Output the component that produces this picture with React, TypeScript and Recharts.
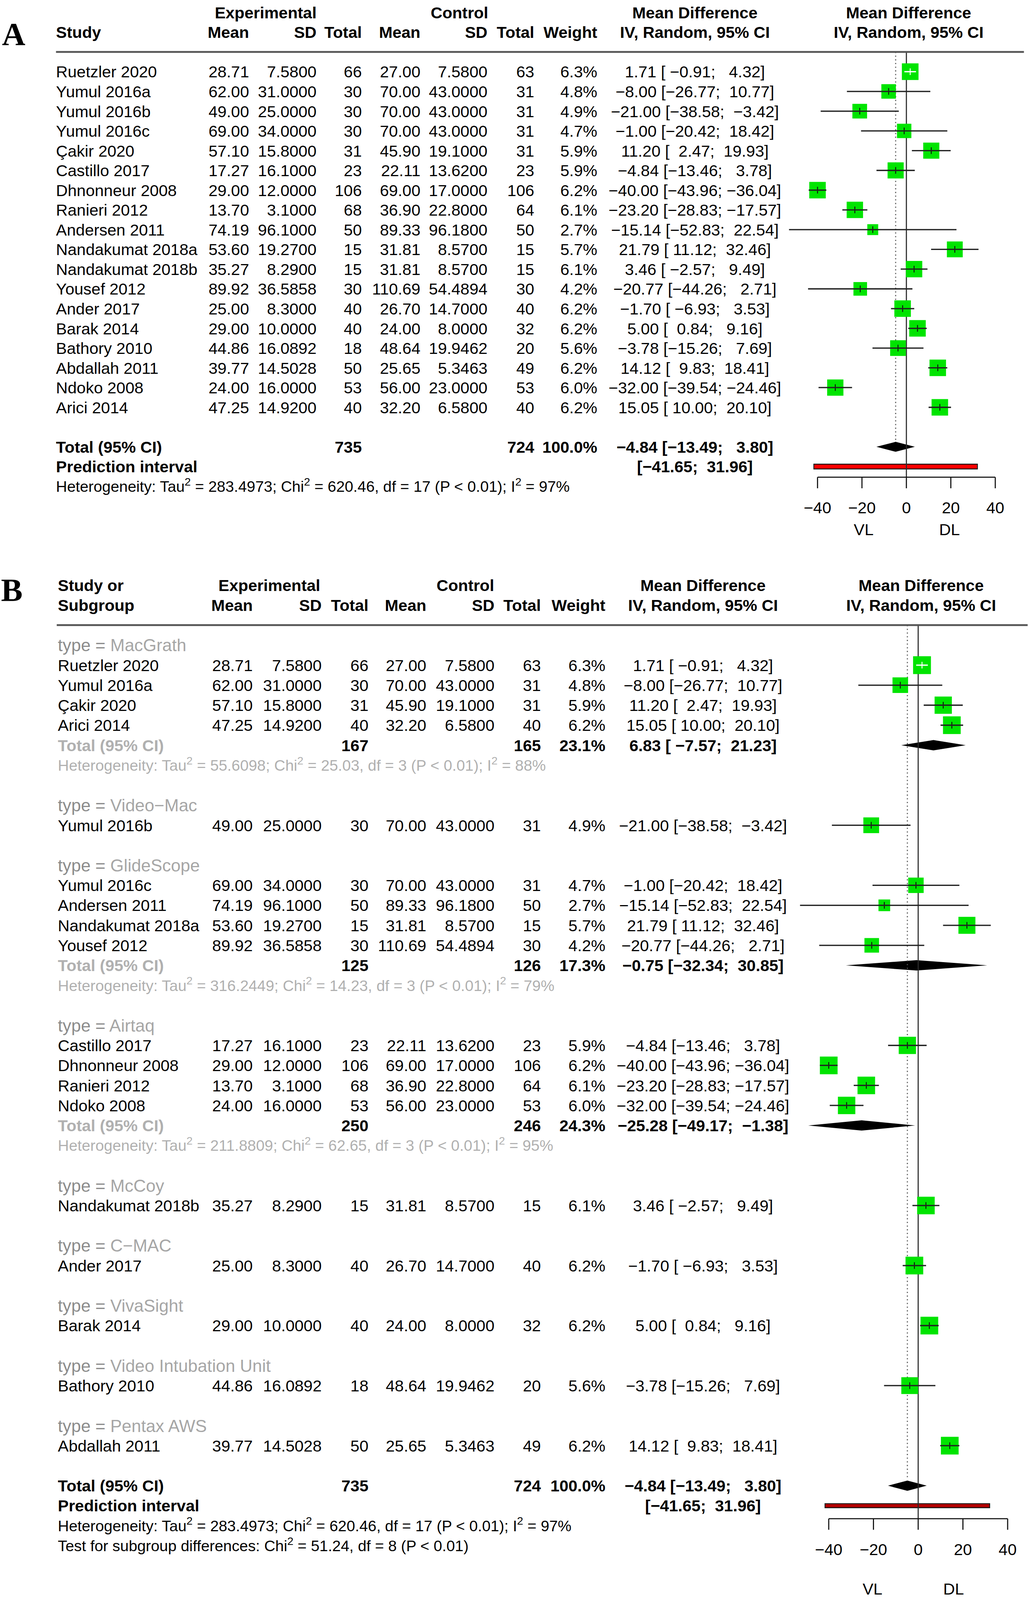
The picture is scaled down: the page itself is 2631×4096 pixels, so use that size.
import React from 'react';
import { ComposedChart, Scatter, XAxis, YAxis, ReferenceLine, ReferenceArea } from 'recharts';

// everything below is laid out in reference pixels and scaled by S
const S = 0.943;
const k = (v: number) => v * S;
const REF_W = 2789;
const FONT = '"Liberation Sans", Arial, Helvetica, sans-serif';
const SERIF = '"Liberation Serif", "Times New Roman", serif';
const GREEN = '#00e400';
const HET_SIZE = 41.7;
const LABEL_SIZE = 47;

// ---- study table (panel A order) ----
const studyNames = [
  'Ruetzler 2020', 'Yumul 2016a', 'Yumul 2016b', 'Yumul 2016c', 'Çakir 2020', 'Castillo 2017',
  'Dhnonneur 2008', 'Ranieri 2012', 'Andersen 2011', 'Nandakumat 2018a', 'Nandakumat 2018b',
  'Yousef 2012', 'Ander 2017', 'Barak 2014', 'Bathory 2010', 'Abdallah 2011', 'Ndoko 2008', 'Arici 2014',
];
const expMean = [28.71, 62.0, 49.0, 69.0, 57.1, 17.27, 29.0, 13.7, 74.19, 53.6, 35.27, 89.92, 25.0, 29.0, 44.86, 39.77, 24.0, 47.25];
const expSD = [7.58, 31.0, 25.0, 34.0, 15.8, 16.1, 12.0, 3.1, 96.1, 19.27, 8.29, 36.5858, 8.3, 10.0, 16.0892, 14.5028, 16.0, 14.92];
const expN = [66, 30, 30, 30, 31, 23, 106, 68, 50, 15, 15, 30, 40, 40, 18, 50, 53, 40];
const ctlMean = [27.0, 70.0, 70.0, 70.0, 45.9, 22.11, 69.0, 36.9, 89.33, 31.81, 31.81, 110.69, 26.7, 24.0, 48.64, 25.65, 56.0, 32.2];
const ctlSD = [7.58, 43.0, 43.0, 43.0, 19.1, 13.62, 17.0, 22.8, 96.18, 8.57, 8.57, 54.4894, 14.7, 8.0, 19.9462, 5.3463, 23.0, 6.58];
const ctlN = [63, 31, 31, 31, 31, 23, 106, 64, 50, 15, 15, 30, 40, 32, 20, 49, 53, 40];
const weight = [6.3, 4.8, 4.9, 4.7, 5.9, 5.9, 6.2, 6.1, 2.7, 5.7, 6.1, 4.2, 6.2, 6.2, 5.6, 6.2, 6.0, 6.2];
const meanDiff = [1.71, -8.0, -21.0, -1.0, 11.2, -4.84, -40.0, -23.2, -15.14, 21.79, 3.46, -20.77, -1.7, 5.0, -3.78, 14.12, -32.0, 15.05];
const ciLow = [-0.91, -26.77, -38.58, -20.42, 2.47, -13.46, -43.96, -28.83, -52.83, 11.12, -2.57, -44.26, -6.93, 0.84, -15.26, 9.83, -39.54, 10.0];
const ciHigh = [4.32, 10.77, -3.42, 18.42, 19.93, 3.78, -36.04, -17.57, 22.54, 32.46, 9.49, 2.71, 3.53, 9.16, 7.69, 18.41, -24.46, 20.1];

// ---- subgroups (panel B) ----
const groupNames = ['MacGrath', 'Video−Mac', 'GlideScope', 'Airtaq', 'McCoy', 'C−MAC', 'VivaSight', 'Video Intubation Unit', 'Pentax AWS'];
const groupMembers = [[0, 1, 4, 17], [2], [3, 8, 9, 11], [5, 6, 7, 16], [10], [12], [13], [14], [15]];
const subExpN = [167, null, 125, 250, null, null, null, null, null];
const subCtlN = [165, null, 126, 246, null, null, null, null, null];
const subWeight = [23.1, null, 17.3, 24.3, null, null, null, null, null];
const subMd = [6.83, null, -0.75, -25.28, null, null, null, null, null];
const subLow = [-7.57, null, -32.34, -49.17, null, null, null, null, null];
const subHigh = [21.23, null, 30.85, -1.38, null, null, null, null, null];
const subTau2 = ['55.6098', null, '316.2449', '211.8809', null, null, null, null, null];
const subChi2 = ['25.03', null, '14.23', '62.65', null, null, null, null, null];
const subDf = [3, null, 3, 3, null, null, null, null, null];
const subI2 = [88, null, 79, 95, null, null, null, null, null];

// ---- overall ----
const totalExpN = 735;
const totalCtlN = 724;
const overallMd = -4.84;
const overallLow = -13.49;
const overallHigh = 3.8;
const predLow = -41.65;
const predHigh = 31.96;
const hetTau2 = '283.4973';
const hetChi2 = '620.46';
const hetDf = 17;
const hetI2 = 97;
const testChi2 = '51.24';
const testDf = 8;
const axisTicks = [-40, -20, 0, 20, 40];

const XMIN = -58;
const XMAX = 48;
const XAXIS_H = 150;

type Panel = {
  top: number; height: number; lineY: number; lineRow: number; unit: number; axisRow: number;
  zero: number; ppu: number; sq: number; dia: number; pred: number; predFill: string;
};
const PA: Panel = { top: 0, height: 1545, lineY: 141, lineRow: -1, unit: 53.6, axisRow: 20.54, zero: 2460, ppu: 6.03, sq: 18, dia: 13.5, pred: 6.5, predFill: '#ff0000' };
const PB: Panel = { top: 1545, height: 2797, lineY: 1697, lineRow: -2, unit: 54.33, axisRow: 42.65, zero: 2492, ppu: 6.07, sq: 19.3, dia: 14, pred: 5.5, predFill: '#b40000' };

const rowY = (p: Panel, r: number) => p.lineY + (r - p.lineRow) * p.unit;

const minus = (s: string) => s.replace('-', '−');
const f2 = (v: number) => minus(v.toFixed(2));
const f4 = (v: number) => minus(v.toFixed(4));
const pad = (s: string, n: number) => s.padStart(n, ' ');
const mdText = (m: number, lo: number, hi: number) => `${f2(m)} [${pad(f2(lo), 6)}; ${pad(f2(hi), 6)}]`;

type Sq = { x: number; y: number; size: number; white: boolean };
type Seg = { lo: number; hi: number; y: number; white: boolean };
type Dia = { lo: number; hi: number; y: number };

const squareShape = (props: any) => {
  const { cx, cy, payload } = props;
  const s = k(payload.size);
  return (
    <g>
      <rect x={cx - s / 2} y={cy - s / 2} width={s} height={s} fill={GREEN} />
      <line x1={cx} x2={cx} y1={cy - k(9)} y2={cy + k(9)} stroke={payload.white ? '#fff' : '#111'} strokeWidth={k(2.5)} />
    </g>
  );
};
const emptyShape = () => <g />;
const diamondShape = (props: any) => {
  const { x, y, width, height } = props;
  return (
    <polygon
      points={`${x},${y + height / 2} ${x + width / 2},${y} ${x + width},${y + height / 2} ${x + width / 2},${y + height}`}
      fill="#000"
    />
  );
};

function ForestChart({ p, squares, segs, diamonds, predRow, totalRow }: {
  p: Panel; squares: Sq[]; segs: Seg[]; diamonds: Dia[]; predRow: number; totalRow: number;
}) {
  const axisPx = rowY(p, p.axisRow);
  const margin = {
    top: k(p.lineY - p.top),
    left: k(p.zero + XMIN * p.ppu),
    right: k(REF_W - (p.zero + XMAX * p.ppu)),
    bottom: k(p.top + p.height - axisPx - XAXIS_H),
  };
  const hDia = p.dia / p.unit;
  const hPred = p.pred / p.unit;
  return (
    <div style={{ position: 'absolute', left: 0, top: k(p.top) }}>
      <ComposedChart width={k(REF_W)} height={k(p.height)} margin={margin}>
        <XAxis
          type="number" dataKey="x" domain={[XMIN, XMAX]} ticks={axisTicks} interval={0}
          axisLine={false} tickLine={{ stroke: '#111', strokeWidth: k(3) }} tickSize={k(30)} tickMargin={k(37)}
          height={k(XAXIS_H)} tick={{ fill: '#000', fontSize: k(44), fontFamily: FONT }}
          tickFormatter={(v: number) => minus(String(v))}
        />
        <YAxis type="number" dataKey="y" domain={[p.lineRow, p.axisRow]} reversed hide />
        <ReferenceArea
          x1={predLow} x2={predHigh} y1={predRow - hPred} y2={predRow + hPred}
          fill={p.predFill} fillOpacity={1} stroke="#1a1a1a" strokeWidth={k(2.5)} ifOverflow="visible"
        />
        {diamonds.map((d, i) => (
          <ReferenceArea key={`d${i}`} x1={d.lo} x2={d.hi} y1={d.y - hDia} y2={d.y + hDia} shape={diamondShape} ifOverflow="visible" />
        ))}
        <ReferenceLine x={0} stroke="#2b2b2b" strokeWidth={k(3)} ifOverflow="visible" />
        <ReferenceLine
          segment={[{ x: overallMd, y: p.lineRow }, { x: overallMd, y: totalRow - hDia - 0.05 }]}
          stroke="#555" strokeWidth={k(3)} strokeDasharray={`${k(3)} ${k(7)}`} ifOverflow="visible"
        />
        <ReferenceLine
          segment={[{ x: axisTicks[0], y: p.axisRow }, { x: axisTicks[axisTicks.length - 1], y: p.axisRow }]}
          stroke="#111" strokeWidth={k(3)} ifOverflow="visible"
        />
        <Scatter data={squares} shape={squareShape} isAnimationActive={false} />
        {segs.map((s, i) => (
          <Scatter
            key={`s${i}`}
            data={[{ x: s.lo, y: s.y }, { x: s.hi, y: s.y }]}
            fill={s.white ? '#fff' : '#222'}
            line={{ stroke: s.white ? '#fff' : '#222', strokeWidth: k(3.5) }}
            shape={emptyShape}
            isAnimationActive={false}
          />
        ))}
      </ComposedChart>
    </div>
  );
}

// ---- text helpers ----
function T({ x, y, a = 'start', size = 44, bold = false, fill = '#000', children }: {
  x: number; y: number; a?: 'start' | 'middle' | 'end'; size?: number; bold?: boolean; fill?: string; children: React.ReactNode;
}) {
  return (
    <text x={k(x)} y={k(y + 0.36 * size)} textAnchor={a} fontSize={k(size)} fontWeight={bold ? 700 : 400}
      fill={fill} fontFamily={FONT} style={{ whiteSpace: 'pre' }}>
      {children}
    </text>
  );
}

function Sup({ x, y, parts, fill = '#000', size = HET_SIZE }: { x: number; y: number; parts: string[]; fill?: string; size?: number }) {
  const fs = k(size);
  const up = fs * 0.42;
  return (
    <text x={k(x)} y={k(y + 0.36 * size)} fontSize={fs} fill={fill} fontFamily={FONT} style={{ whiteSpace: 'pre' }}>
      {parts.map((s, i) =>
        i % 2 === 1
          ? <tspan key={i} dy={-up} fontSize={fs * 0.72}>{s}</tspan>
          : <tspan key={i} dy={i === 0 ? 0 : up}>{s}</tspan>
      )}
    </text>
  );
}

const hetParts = (tau: string, chi: string, df: number, i2: number) => [
  'Heterogeneity: Tau', '2', ` = ${tau}; Chi`, '2', ` = ${chi}, df = ${df} (P < 0.01); I`, '2', ` = ${i2}%`,
];

type Cols = { name: number; eMean: number; eSD: number; eN: number; cMean: number; cSD: number; cN: number; w: number; md: number; plot: number; exp: number; ctl: number };
const colA: Cols = { name: 152, eMean: 676, eSD: 859, eN: 982, cMean: 1141, cSD: 1323, cN: 1450, w: 1621, md: 1886, plot: 2466, exp: 721, ctl: 1247 };
const colB: Cols = { name: 157, eMean: 686, eSD: 873, eN: 1000, cMean: 1157, cSD: 1342, cN: 1468, w: 1643, md: 1908, plot: 2500, exp: 731, ctl: 1263 };

function Header({ c, y1, y2, study }: { c: Cols; y1: number; y2: number; study: string[] }) {
  return (
    <g>
      {study.length > 1 && <T x={c.name} y={y1} bold>{study[0]}</T>}
      <T x={c.exp} y={y1} a="middle" bold>Experimental</T>
      <T x={c.ctl} y={y1} a="middle" bold>Control</T>
      <T x={c.md} y={y1} a="middle" bold>Mean Difference</T>
      <T x={c.plot} y={y1} a="middle" bold>Mean Difference</T>
      <T x={c.name} y={y2} bold>{study[study.length - 1]}</T>
      <T x={c.eMean} y={y2} a="end" bold>Mean</T>
      <T x={c.eSD} y={y2} a="end" bold>SD</T>
      <T x={c.eN} y={y2} a="end" bold>Total</T>
      <T x={c.cMean} y={y2} a="end" bold>Mean</T>
      <T x={c.cSD} y={y2} a="end" bold>SD</T>
      <T x={c.cN} y={y2} a="end" bold>Total</T>
      <T x={c.w} y={y2} a="end" bold>Weight</T>
      <T x={c.md} y={y2} a="middle" bold>IV, Random, 95% CI</T>
      <T x={c.plot} y={y2} a="middle" bold>IV, Random, 95% CI</T>
    </g>
  );
}

function StudyRow({ c, i, y }: { c: Cols; i: number; y: number }) {
  return (
    <g>
      <T x={c.name} y={y}>{studyNames[i]}</T>
      <T x={c.eMean} y={y} a="end">{f2(expMean[i])}</T>
      <T x={c.eSD} y={y} a="end">{f4(expSD[i])}</T>
      <T x={c.eN} y={y} a="end">{String(expN[i])}</T>
      <T x={c.cMean} y={y} a="end">{f2(ctlMean[i])}</T>
      <T x={c.cSD} y={y} a="end">{f4(ctlSD[i])}</T>
      <T x={c.cN} y={y} a="end">{String(ctlN[i])}</T>
      <T x={c.w} y={y} a="end">{`${weight[i].toFixed(1)}%`}</T>
      <T x={c.md} y={y} a="middle">{mdText(meanDiff[i], ciLow[i], ciHigh[i])}</T>
    </g>
  );
}

function TotalRow({ c, y, label, labelFill, nE, nC, w, m, lo, hi }: {
  c: Cols; y: number; label: string; labelFill: string; nE: number; nC: number; w: number; m: number; lo: number; hi: number;
}) {
  return (
    <g>
      <T x={c.name} y={y} bold fill={labelFill}>{label}</T>
      <T x={c.eN} y={y} a="end" bold>{String(nE)}</T>
      <T x={c.cN} y={y} a="end" bold>{String(nC)}</T>
      <T x={c.w} y={y} a="end" bold>{`${w.toFixed(1)}%`}</T>
      <T x={c.md} y={y} a="middle" bold>{mdText(m, lo, hi)}</T>
    </g>
  );
}

const makeSquare = (p: Panel, i: number, row: number): Sq => {
  const size = p.sq * Math.sqrt(weight[i]);
  return { x: meanDiff[i], y: row, size, white: (ciHigh[i] - ciLow[i]) * p.ppu < size };
};

export default function App() {
  // ---- panel A rows ----
  const rowsA = studyNames.map((_, i) => i);
  const totalRowA = studyNames.length + 1;
  const sqA = rowsA.map((i) => makeSquare(PA, i, i));
  const segA: Seg[] = sqA.map((s, i) => ({ lo: ciLow[i], hi: ciHigh[i], y: i, white: s.white }));
  const diaA: Dia[] = [{ lo: overallLow, hi: overallHigh, y: totalRowA }];

  // ---- panel B rows ----
  type BRow = { kind: 'label' | 'study' | 'total' | 'het'; g: number; i: number; row: number };
  const bRows: BRow[] = [];
  let r = -1;
  groupNames.forEach((_, g) => {
    bRows.push({ kind: 'label', g, i: -1, row: r++ });
    groupMembers[g].forEach((i) => bRows.push({ kind: 'study', g, i, row: r++ }));
    if (subExpN[g] != null) {
      bRows.push({ kind: 'total', g, i: -1, row: r++ });
      bRows.push({ kind: 'het', g, i: -1, row: r++ });
    }
    r++;
  });
  const totalRowB = r;
  const sqB = bRows.filter((b) => b.kind === 'study').map((b) => makeSquare(PB, b.i, b.row));
  const segB: Seg[] = bRows.filter((b) => b.kind === 'study').map((b, j) => ({ lo: ciLow[b.i], hi: ciHigh[b.i], y: b.row, white: sqB[j].white }));
  const diaB: Dia[] = [
    ...bRows.filter((b) => b.kind === 'total').map((b) => ({ lo: subLow[b.g] as number, hi: subHigh[b.g] as number, y: b.row })),
    { lo: overallLow, hi: overallHigh, y: totalRowB },
  ];

  const ya = (row: number) => rowY(PA, row);
  const yb = (row: number) => rowY(PB, row);
  const predText = `[${pad(f2(predLow), 6)}; ${pad(f2(predHigh), 6)}]`;

  return (
    <div style={{ position: 'absolute', left: 0, top: 0, width: 2631, height: 4096, background: '#fff', overflow: 'hidden', fontFamily: FONT }}>
      <ForestChart p={PA} squares={sqA} segs={segA} diamonds={diaA} predRow={totalRowA + 1} totalRow={totalRowA} />
      <ForestChart p={PB} squares={sqB} segs={segB} diamonds={diaB} predRow={totalRowB + 1} totalRow={totalRowB} />
      <svg width={k(REF_W)} height={k(4342)} style={{ position: 'absolute', left: 0, top: 0, pointerEvents: 'none' }}>
        {/* panel A */}
        <text x={k(37)} y={k(122)} textAnchor="middle" fontFamily={SERIF} fontWeight={700} fontSize={k(88)}>A</text>
        <Header c={colA} y1={ya(-3)} y2={ya(-2)} study={['Study']} />
        <rect x={k(152)} y={k(PA.lineY - 2.5)} width={k(2779 - 152)} height={k(5)} fill="#555" />
        {rowsA.map((i) => <StudyRow key={i} c={colA} i={i} y={ya(i)} />)}
        <TotalRow c={colA} y={ya(totalRowA)} label="Total (95% CI)" labelFill="#000" nE={totalExpN} nC={totalCtlN} w={100} m={overallMd} lo={overallLow} hi={overallHigh} />
        <T x={colA.name} y={ya(totalRowA + 1)} bold>Prediction interval</T>
        <T x={colA.md} y={ya(totalRowA + 1)} a="middle" bold>{predText}</T>
        <Sup x={colA.name} y={ya(totalRowA + 2)} parts={hetParts(hetTau2, hetChi2, hetDf, hetI2)} />
        <T x={2344} y={1437} a="middle">VL</T>
        <T x={2577} y={1437} a="middle">DL</T>

        {/* panel B */}
        <text x={k(32)} y={k(1631)} textAnchor="middle" fontFamily={SERIF} fontWeight={700} fontSize={k(88)}>B</text>
        <Header c={colB} y1={yb(-4)} y2={yb(-3)} study={['Study or', 'Subgroup']} />
        <rect x={k(154)} y={k(PB.lineY - 2.5)} width={k(REF_W - 154)} height={k(5)} fill="#555" />
        {bRows.map((b, j) => {
          const y = yb(b.row);
          if (b.kind === 'label') {
            return (
              <text key={j} x={k(colB.name)} y={k(y + 0.36 * LABEL_SIZE)} fontSize={k(LABEL_SIZE)} fontFamily={FONT} style={{ whiteSpace: 'pre' }}>
                <tspan fill="#8c8c8c">type = </tspan>
                <tspan fill="#a6a6a6">{groupNames[b.g]}</tspan>
              </text>
            );
          }
          if (b.kind === 'study') return <StudyRow key={j} c={colB} i={b.i} y={y} />;
          if (b.kind === 'total') {
            return (
              <TotalRow key={j} c={colB} y={y} label="Total (95% CI)" labelFill="#b0b0b0"
                nE={subExpN[b.g] as number} nC={subCtlN[b.g] as number} w={subWeight[b.g] as number}
                m={subMd[b.g] as number} lo={subLow[b.g] as number} hi={subHigh[b.g] as number} />
            );
          }
          return <Sup key={j} x={colB.name} y={y} fill="#b0b0b0"
            parts={hetParts(subTau2[b.g] as string, subChi2[b.g] as string, subDf[b.g] as number, subI2[b.g] as number)} />;
        })}
        <TotalRow c={colB} y={yb(totalRowB)} label="Total (95% CI)" labelFill="#000" nE={totalExpN} nC={totalCtlN} w={100} m={overallMd} lo={overallLow} hi={overallHigh} />
        <T x={colB.name} y={yb(totalRowB + 1)} bold>Prediction interval</T>
        <T x={colB.md} y={yb(totalRowB + 1)} a="middle" bold>{predText}</T>
        <Sup x={colB.name} y={yb(totalRowB + 2)} parts={hetParts(hetTau2, hetChi2, hetDf, hetI2)} />
        <Sup x={colB.name} y={yb(totalRowB + 3)} parts={['Test for subgroup differences: Chi', '2', ` = ${testChi2}, df = ${testDf} (P < 0.01)`]} />
        <T x={2368} y={4313} a="middle">VL</T>
        <T x={2588} y={4313} a="middle">DL</T>
      </svg>
    </div>
  );
}
